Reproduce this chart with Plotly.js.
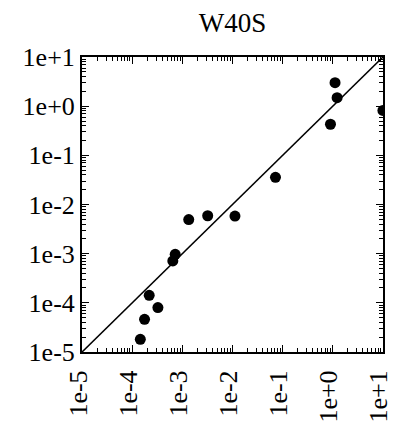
<!DOCTYPE html>
<html>
<head>
<meta charset="utf-8">
<script src="https://cdn.plot.ly/plotly-3.0.1.min.js"></script>
<style>
  html, body { margin: 0; padding: 0; background: #fff; }
</style>
</head>
<body>
<div id="chart" style="width:393px;height:424px"></div>
<script>
// Observed vs. predicted values for W40S (log-log)
const predicted = [1.45e-4, 1.76e-4, 2.18e-4, 3.25e-4, 6.45e-4, 7.2e-4, 1.34e-3, 3.2e-3, 1.12e-2, 7.2e-2, 0.90, 1.11, 1.22, 10];
const observed  = [1.8e-5, 4.6e-5, 1.42e-4, 8.0e-5, 7.1e-4, 9.7e-4, 4.93e-3, 5.9e-3, 5.8e-3, 3.57e-2, 0.43, 3.01, 1.49, 0.82];

// 1:1 reference line end points
const identityLine = [1e-5, 1e1];

// Decade ticks and their labels
const tickValues = [1e-5, 1e-4, 1e-3, 1e-2, 1e-1, 1e0, 1e1];
const tickLabels = ['1e-5', '1e-4', '1e-3', '1e-2', '1e-1', '1e+0', '1e+1'];

// Minor ticks at 2..9 within every decade
const minorTicks = [];
for (let e = -5; e < 1; e++) {
  for (let m = 2; m <= 9; m++) minorTicks.push(m * Math.pow(10, e));
}

const serif = '"Liberation Serif", serif';

function makeAxis(extra) {
  return Object.assign({
    type: 'log',
    range: [-5.002, 1.002],
    tickmode: 'array',
    tickvals: tickValues,
    ticktext: tickLabels,
    ticks: 'inside',
    ticklen: 7,
    tickwidth: 1,
    tickcolor: '#000',
    showline: true,
    linecolor: '#000',
    linewidth: 2,
    mirror: 'allticks',
    showgrid: false,
    zeroline: false,
    ticklabeloverflow: 'allow',
    tickfont: { family: serif, size: 26, color: '#000' },
    minor: {
      tickmode: 'array',
      tickvals: minorTicks.slice(),
      ticks: 'inside',
      ticklen: 4,
      tickwidth: 1,
      tickcolor: '#000',
      showgrid: false
    }
  }, extra);
}

const traces = [
  {
    x: identityLine,
    y: identityLine,
    mode: 'lines',
    line: { color: '#000', width: 1.6 },
    hoverinfo: 'skip'
  },
  {
    x: predicted,
    y: observed,
    mode: 'markers',
    marker: { color: '#000', size: 11 }
  }
];

const layout = {
  width: 393,
  height: 424,
  margin: { l: 82, r: 10, t: 57, b: 72 },
  paper_bgcolor: '#fff',
  plot_bgcolor: '#fff',
  showlegend: false,
  font: { family: serif, color: '#000' },
  title: {
    text: 'W40S',
    font: { family: serif, size: 27, color: '#000' },
    x: 0.5,
    xref: 'paper',
    y: 0.946,
    yref: 'container',
    yanchor: 'middle'
  },
  xaxis: makeAxis({ tickangle: -90, ticklabelshift: -4, ticklabelstandoff: 6 }),
  yaxis: makeAxis({})
};

Plotly.newPlot('chart', traces, layout, { displayModeBar: false });
</script>
</body>
</html>
